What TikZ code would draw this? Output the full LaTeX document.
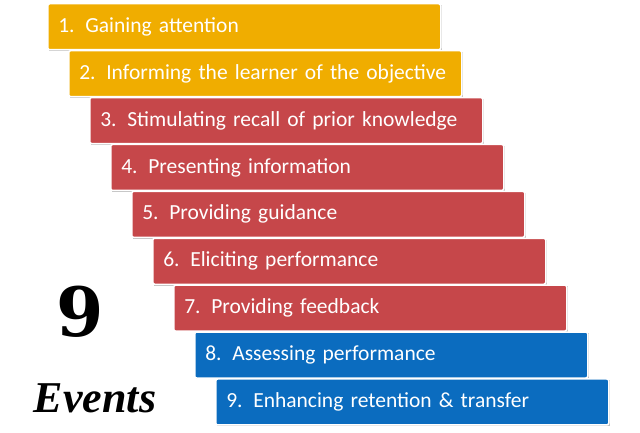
\documentclass[tikz,border=0pt]{standalone}
\usepackage{fontspec}
\setmainfont{Carlito}
\newfontfamily\nineff{DejaVu Serif}
\newfontfamily\evff{Liberation Serif}
\definecolor{gold}{HTML}{F0AD00}
\definecolor{redb}{HTML}{C6474A}
\definecolor{blueb}{HTML}{0B6CBF}
\begin{document}
\begin{tikzpicture}[x=1pt,y=-1pt,
  bar/.style={draw=white,line width=1.5pt,rounded corners=2pt,minimum width=393pt,minimum height=46pt,anchor=north west,inner sep=0pt,
    text=white,font=\fontsize{21.5}{23}\selectfont,text width=372pt,align=left},
]
\useasboundingbox (0,0) rectangle (640,433);
\foreach \i/\c/\t in {1/gold/1. Gaining attention,2/gold/2. Informing the learner of the objective,3/redb/3. Stimulating recall of prior knowledge,4/redb/4. Presenting information,5/redb/5. Providing guidance,6/redb/6. Eliciting performance,7/redb/7. Providing feedback,8/blueb/8. Assessing performance,9/blueb/9. Enhancing retention \& transfer}{
  \fill[black!25] ({47+21*(\i-1)+2},{3+46.9*(\i-1)+2}) rectangle ++(393,46);
  \node[bar,fill=\c] (b\i) at ({47+21*(\i-1)},{3+46.9*(\i-1)}) {\t};
}
\node[font=\nineff\bfseries\fontsize{68}{68}\selectfont] (nine) at (80,312) {9};
\node[font=\evff\bfseries\itshape\fontsize{44}{44}\selectfont] (ev) at (95,398) {Events};
\end{tikzpicture}
\end{document}
